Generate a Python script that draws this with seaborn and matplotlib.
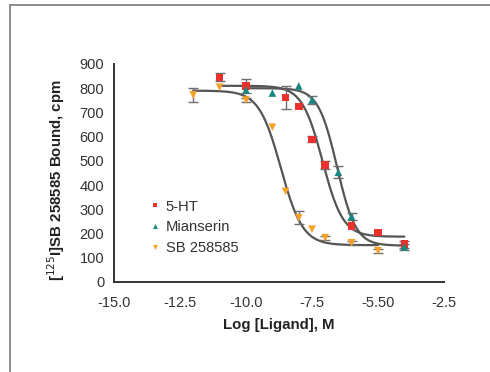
import numpy as np
import pandas as pd
import matplotlib
matplotlib.use("Agg")
import matplotlib.pyplot as plt
from matplotlib.lines import Line2D
import seaborn as sns

# Competition binding data, log molar ligand concentration vs bound counts
ht_x = [-11.0, -10.0, -8.5, -8.0, -7.5, -7.0, -6.0, -5.0, -4.0]
ht_y = [845, 810, 762, 724, 589, 482, 230, 205, 156]
ht_err = [17, 30, 47, 0, 12, 17, 0, 0, 15]

mian_x = [-10.0, -9.0, -8.0, -7.5, -6.5, -6.0, -4.0]
mian_y = [793, 780, 809, 751, 453, 270, 145]
mian_err = [0, 0, 0, 18, 24, 14, 12]

sb_x = [-12.0, -11.0, -10.0, -9.0, -8.5, -8.0, -7.5, -7.0, -6.0, -5.0]
sb_y = [772, 804, 751, 639, 374, 265, 218, 183, 162, 129]
sb_err = [28, 0, 10, 0, 0, 26, 0, 8, 8, 8]

# Fitted four-parameter logistic curves: top, bottom, logIC50, Hill slope, x range
ht_fit = (810, 187, -7.10, 1.12, -11.0, -4.0)
mian_fit = (800, 150, -6.55, 1.22, -10.0, -4.0)
sb_fit = (790, 152, -8.68, 1.05, -12.0, -5.0)

series_names = ["5-HT", "Mianserin", "SB 258585"]
colors = {"5-HT": "#e8322b", "Mianserin": "#17877f", "SB 258585": "#f6a024"}
markers = {"5-HT": "s", "Mianserin": "^", "SB 258585": "v"}

x_ticks = [-15.0, -12.5, -10.0, -7.5, -5.0, -2.5]
x_tick_labels = ["-15.0", "-12.5", "-10.0", "-7.5", "-5.50", "-2.5"]
y_ticks = list(range(0, 1000, 100))


def logistic(x, top, bottom, logic50, hill):
    return bottom + (top - bottom) / (1.0 + 10 ** ((x - logic50) * hill))


points = pd.concat([
    pd.DataFrame({"x": ht_x, "y": ht_y, "err": ht_err, "ligand": "5-HT"}),
    pd.DataFrame({"x": mian_x, "y": mian_y, "err": mian_err, "ligand": "Mianserin"}),
    pd.DataFrame({"x": sb_x, "y": sb_y, "err": sb_err, "ligand": "SB 258585"}),
], ignore_index=True)

curves = []
for name, fit in zip(series_names, [ht_fit, mian_fit, sb_fit]):
    top, bottom, lic, hill, x0, x1 = fit
    xs = np.linspace(x0, x1, 300)
    curves.append(pd.DataFrame({"x": xs, "y": logistic(xs, top, bottom, lic, hill), "ligand": name}))
curves = pd.concat(curves, ignore_index=True)

sns.set_theme(style="white")
plt.rcParams["font.family"] = ["Liberation Sans", "DejaVu Sans"]

fig = plt.figure(figsize=(4.9, 3.72), dpi=100)
ax = fig.add_axes([0.2327, 0.242, 0.906 - 0.2327, 0.828 - 0.242])

# fitted curves
for name in series_names:
    sub = curves[curves.ligand == name]
    sns.lineplot(data=sub, x="x", y="y", color="#555555", lw=1.6, ax=ax,
                 legend=False, zorder=2, sort=False)

# error bars
eb = points[points.err > 0]
ax.errorbar(eb.x, eb.y, yerr=eb.err, fmt="none", ecolor="#6e6e6e",
            elinewidth=1.0, capsize=3.5, capthick=1.0, zorder=3)

# data points
sns.scatterplot(data=points, x="x", y="y", hue="ligand", style="ligand",
                palette=colors, markers=markers, hue_order=series_names,
                style_order=series_names, s=30, edgecolor="none",
                linewidth=0, ax=ax, zorder=4)

ax.set_xlim(-15.0, -2.5)
ax.set_ylim(0, 900)
ax.set_xticks(x_ticks)
ax.set_xticklabels(x_tick_labels)
ax.set_yticks(y_ticks)

for side in ["top", "right"]:
    ax.spines[side].set_visible(False)
for side in ["left", "bottom"]:
    ax.spines[side].set_color("#333333")
    ax.spines[side].set_linewidth(1.4)

ax.tick_params(axis="both", which="major", direction="out", length=5,
               width=1.2, color="#555555", labelsize=10.5, labelcolor="#333333", pad=2)
ax.tick_params(axis="x", length=6, pad=4)

ax.set_xlabel("Log [Ligand], M", fontsize=10.8, fontweight="bold", color="#222222", labelpad=6)
ax.set_ylabel(r"[$^{125}$I]SB 258585 Bound, cpm", fontsize=10.8, fontweight="bold",
              color="#222222")
ax.yaxis.set_label_coords(-0.142, 0.468)

leg = ax.legend(loc="upper left", bbox_to_anchor=(0.085, 0.405), frameon=False,
                fontsize=10.6, handletextpad=0.2, labelspacing=0.45,
                markerscale=0.65, borderaxespad=0, handlelength=1.0)
for t in leg.get_texts():
    t.set_color("#333333")

# outer frame
fig.add_artist(Line2D([10 / 490, 10 / 490], [0, 1 - 5 / 372], transform=fig.transFigure,
                      color="#8a8a8a", lw=1.4))
fig.add_artist(Line2D([10 / 490, 1.0], [1 - 5 / 372, 1 - 5 / 372], transform=fig.transFigure,
                      color="#8a8a8a", lw=1.4))

fig.savefig("out.png", dpi=100)
